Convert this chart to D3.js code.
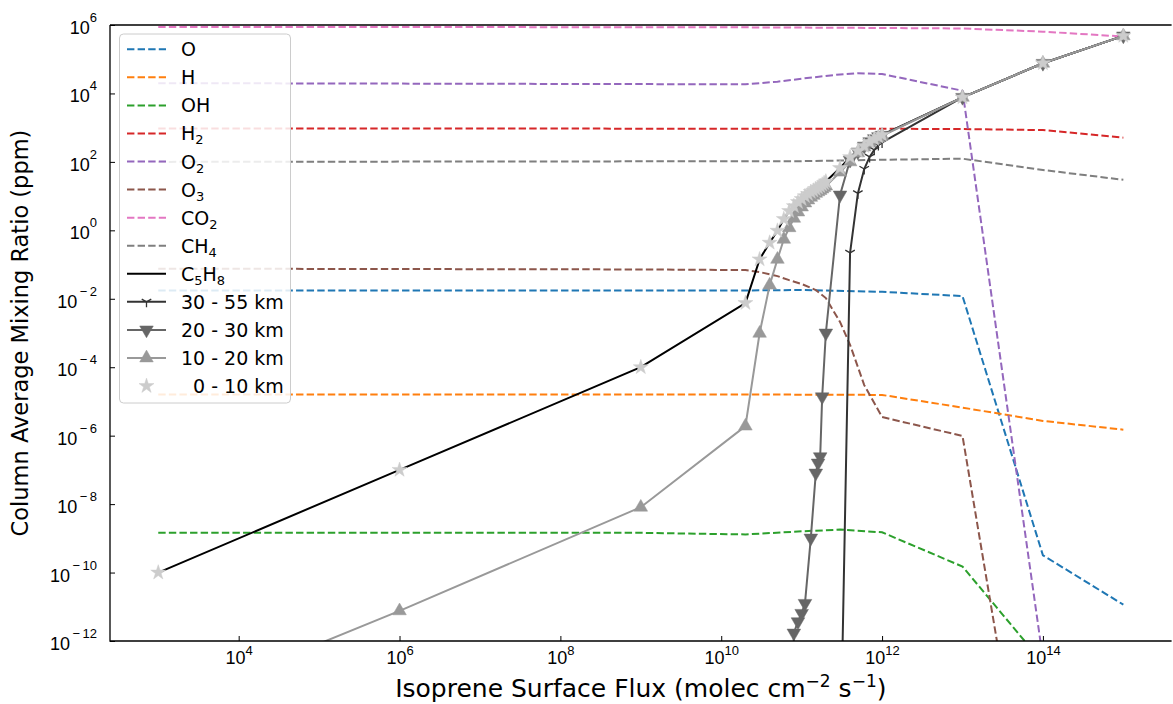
<!DOCTYPE html>
<html>
<head>
<meta charset="utf-8">
<script src="https://cdn.jsdelivr.net/npm/d3@7"></script>
<style>
  html, body { margin: 0; padding: 0; background: #fff; }
  svg { display: block; font-family: "DejaVu Sans", sans-serif; }
</style>
</head>
<body>
<svg id="chart" width="1173" height="704"></svg>
<script>
// ---- species column averages (dashed) ----
const oFlux   = [1e3, 2e10, 1e11, 1e12, 1e13, 1e14, 1e15];
const oVals   = [1.75e-2, 1.75e-2, 1.8e-2, 1.6e-2, 1.2e-2, 3.2e-10, 1.15e-11];
const hFlux   = [1e3, 2e10, 1e12, 1e13, 1e14, 1e15];
const hVals   = [1.6e-5, 1.6e-5, 1.55e-5, 6.6e-6, 2.7e-6, 1.5e-6];
const ohFlux  = [1e3, 1e9, 2e10, 1e11, 3e11, 1e12, 1e13, 1e14];
const ohVals  = [1.45e-9, 1.45e-9, 1.3e-9, 1.6e-9, 1.8e-9, 1.5e-9, 1.5e-10, 2.3e-13];
const h2Flux  = [1e3, 1e12, 1e13, 1e14, 1e15];
const h2Vals  = [9.5e2, 9.3e2, 9.1e2, 8.5e2, 5.1e2];
const o2Flux  = [1e3, 2e10, 5e10, 1e11, 3e11, 5e11, 1e12, 1e13, 1e14, 1e15];
const o2Vals  = [2.0e4, 1.85e4, 2.2e4, 2.7e4, 3.6e4, 3.9e4, 3.7e4, 1.2e4, 3e-13, 1e-30];
const o3Flux  = [1e3, 1e9, 2e10, 3e10, 5e10, 7e10, 1e11, 1.5e11, 2e11, 3e11, 4e11, 6e11, 1e12, 1e13, 1e14];
const o3Vals  = [7.6e-2, 7.2e-2, 6.9e-2, 6.05e-2, 4.6e-2, 3.5e-2, 2.7e-2, 1.8e-2, 1.05e-2, 2.1e-3, 4.5e-4, 3.0e-5, 3.5e-6, 9.8e-7, 1e-20];
const co2Flux = [1e3, 1e10, 1e12, 1e13, 1e14, 1e15];
const co2Vals = [8.8e5, 8.6e5, 8.2e5, 7.9e5, 6.4e5, 4.6e5];
const ch4Flux = [1e3, 1e11, 1e12, 1e13, 1e14, 1e15];
const ch4Vals = [1.0e2, 1.05e2, 1.15e2, 1.24e2, 5.8e1, 3.0e1];

// ---- isoprene runs: surface flux grid ----
const fluxGrid = [
  1e3, 1e6, 1e9,
  2e10, 3e10, 4e10, 5e10, 6e10, 7e10, 8e10, 9e10,
  1e11, 1.1e11, 1.2e11, 1.3e11, 1.4e11, 1.5e11, 1.6e11, 1.7e11, 1.8e11, 1.9e11, 2e11,
  3e11, 4e11, 5e11, 6e11, 7e11, 8e11, 9e11, 1e12,
  1e13, 1e14, 1e15
];

// column average C5H8
const c5h8Vals = [
  1e-10, 1e-7, 1e-4,
  7.5e-3, 0.142, 0.435, 0.975, 2.14, 3.67, 5.1, 6.7,
  8.2, 10, 11.5, 13.2, 14.5, 16.1, 17.8, 19.6, 21.7, 24, 26.7,
  66, 138, 209, 290, 380, 465, 540, 615,
  7.7e3, 7.6e4, 4.8e5
];

// C5H8 in altitude bands (null: not reached at that flux)
const band3055Vals = [
  null, null, null,
  null, null, null, null, null, null, null, null,
  null, null, null, null, null, null, null, null, null, null, null,
  1e-16, 0.22, 12, 62, 140, 225, 310, 370,
  7.7e3, 7.6e4, 4.8e5
];
const band2030Vals = [
  null, null, null,
  null, null, null, null, null, 1e-20, 1.71e-12, 3.66e-12,
  6.44e-12, 1.26e-11, null, 1.02e-9, null, 8.1e-8, 1.59e-7, 2.43e-7, 1.37e-5, null, 1.0e-3,
  10.8, 112, 195, 290, 390, 480, 550, 600,
  7.7e3, 7.6e4, 4.8e5
];
const band1020Vals = [
  1e-14, 7.6e-12, 8.1e-9,
  1.9e-6, 9.8e-4, 2.5e-2, 0.142, 0.547, 1.19, 2.24, 3.43,
  4.8, 6.3, 7.7, 9.2, 10.5, 12, 13.3, 14.6, 16.1, 17.8, 19.6,
  50, 100, 183, 271, 353, 436, 500, 575,
  7.7e3, 7.6e4, 4.8e5
];
const band010Vals = [
  1e-10, 1e-7, 1e-4,
  7.5e-3, 0.142, 0.435, 0.975, 2.14, 3.67, 5.1, 6.7,
  8.2, 10, 11.5, 13.2, 14.5, 16.1, 17.8, 19.6, 21.7, 24, 26.7,
  66, 138, 209, 290, 380, 465, 540, 615,
  7.7e3, 7.6e4, 4.8e5
];

const xTickVals = [1e4, 1e6, 1e8, 1e10, 1e12, 1e14];
const yTickVals = [1e-12, 1e-10, 1e-8, 1e-6, 1e-4, 1e-2, 1e0, 1e2, 1e4, 1e6];

const zip = (xs, ys) => xs.map((v, i) => [v, ys[i]]).filter(d => d[1] != null);

const species = [
  { label: ["O"],        color: "#1f77b4", data: zip(oFlux, oVals) },
  { label: ["H"],        color: "#ff7f0e", data: zip(hFlux, hVals) },
  { label: ["OH"],       color: "#2ca02c", data: zip(ohFlux, ohVals) },
  { label: ["H", "2"],   color: "#d62728", data: zip(h2Flux, h2Vals) },
  { label: ["O", "2"],   color: "#9467bd", data: zip(o2Flux, o2Vals) },
  { label: ["O", "3"],   color: "#8c564b", data: zip(o3Flux, o3Vals) },
  { label: ["CO", "2"],  color: "#e377c2", data: zip(co2Flux, co2Vals) },
  { label: ["CH", "4"],  color: "#7f7f7f", data: zip(ch4Flux, ch4Vals) },
];

const bands = [
  { label: "30 - 55 km", color: "#333333", marker: "tri", line: true,  data: zip(fluxGrid, band3055Vals) },
  { label: "20 - 30 km", color: "#666666", marker: "down", line: true, data: zip(fluxGrid, band2030Vals) },
  { label: "10 - 20 km", color: "#999999", marker: "up", line: true,   data: zip(fluxGrid, band1020Vals) },
  { label: "  0 - 10 km", color: "#cccccc", marker: "star", line: false, data: zip(fluxGrid, band010Vals) },
];

const W = 1173, H = 704;
const plot = { left: 110, right: 1171.6, top: 25, bottom: 641 };

const x = d3.scaleLog().domain([Math.pow(10, 2.4), Math.pow(10, 15.6)]).range([plot.left, plot.right]);
const y = d3.scaleLog().domain([1e-12, 1e6]).range([plot.bottom, plot.top]);

const svg = d3.select("#chart");
svg.append("rect").attr("width", W).attr("height", H).attr("fill", "#fff");

svg.append("defs").append("clipPath").attr("id", "plotClip")
  .append("rect")
  .attr("x", plot.left).attr("y", plot.top)
  .attr("width", plot.right - plot.left).attr("height", plot.bottom - plot.top);

const line = d3.line().x(d => x(d[0])).y(d => y(d[1]));

const g = svg.append("g").attr("clip-path", "url(#plotClip)");

// dashed species
species.forEach(s => {
  g.append("path")
    .attr("d", line(s.data))
    .attr("fill", "none")
    .attr("stroke", s.color)
    .attr("stroke-width", 2)
    .attr("stroke-dasharray", "7.4,3.2");
});

// isoprene column average
g.append("path")
  .attr("d", line(zip(fluxGrid, c5h8Vals)))
  .attr("fill", "none")
  .attr("stroke", "#000")
  .attr("stroke-width", 2);

function markerPath(kind) {
  if (kind === "star") return d3.symbol(d3.symbolStar, 70)();
  if (kind === "up") return d3.symbol(d3.symbolTriangle, 80)();
  if (kind === "down") return d3.symbol(d3.symbolTriangle, 80)();
  // tri_down: three spokes
  const s = 5.5;
  return `M0,0L0,${s}M0,0L${-0.866 * s},${-0.5 * s}M0,0L${0.866 * s},${-0.5 * s}`;
}

function drawMarker(sel, kind, color) {
  const p = sel.append("path").attr("d", markerPath(kind));
  if (kind === "tri") {
    p.attr("fill", "none").attr("stroke", color).attr("stroke-width", 1.3);
  } else {
    p.attr("fill", color).attr("stroke", color).attr("stroke-width", 0.5);
  }
  if (kind === "down") p.attr("transform", "rotate(180)");
  return p;
}

bands.forEach(b => {
  if (b.line) {
    g.append("path")
      .attr("d", line(b.data))
      .attr("fill", "none")
      .attr("stroke", b.color)
      .attr("stroke-width", 2);
  }
  const mg = g.append("g");
  b.data.forEach(d => {
    const m = mg.append("g").attr("transform", `translate(${x(d[0])},${y(d[1])})`);
    drawMarker(m, b.marker, b.color);
  });
});

// ---- axes ----
function powerLabel(sel, v, baseSize, supSize, raise) {
  const e = Math.round(Math.log10(v));
  sel.text(null);
  sel.append("tspan").attr("font-size", baseSize).text("10");
  if (e < 0) {
    sel.append("tspan").attr("font-size", supSize).attr("dy", -raise).attr("dx", 2.5).text("\u2212");
    sel.append("tspan").attr("font-size", supSize).attr("dx", 2.5).text(String(-e));
  } else {
    sel.append("tspan").attr("font-size", supSize).attr("dy", -raise).text(String(e));
  }
}

const xAxis = svg.append("g")
  .attr("transform", `translate(0,${plot.bottom})`)
  .call(d3.axisBottom(x).tickValues(xTickVals).tickSize(-5).tickSizeOuter(0).tickPadding(0));
xAxis.select(".domain").remove();
xAxis.selectAll(".tick line").attr("stroke", "#000").attr("stroke-width", 1);
xAxis.selectAll(".tick text")
  .attr("y", 23)
  .attr("dy", null)
  .attr("fill", "#000")
  .attr("text-anchor", "middle")
  .each(function(d) { powerLabel(d3.select(this), d, 18, 13, 9); });

const yAxis = svg.append("g")
  .attr("transform", `translate(${plot.left},0)`)
  .call(d3.axisLeft(y).tickValues(yTickVals).tickSize(-5).tickSizeOuter(0).tickPadding(0));
yAxis.select(".domain").remove();
yAxis.selectAll(".tick line").attr("stroke", "#000").attr("stroke-width", 1);
yAxis.selectAll(".tick text")
  .attr("x", -13)
  .attr("dy", null)
  .attr("y", 8.5)
  .attr("fill", "#000")
  .attr("text-anchor", "end")
  .each(function(d) { powerLabel(d3.select(this), d, 18, 13, 12); });

// spines
svg.append("path")
  .attr("d", `M${plot.left},${plot.top}H${plot.right}M${plot.left},${plot.top}V${plot.bottom}H${plot.right}`)
  .attr("fill", "none").attr("stroke", "#000").attr("stroke-width", 1.3);

// axis titles
const xl = svg.append("text")
  .attr("x", (plot.left + plot.right) / 2)
  .attr("y", 697)
  .attr("text-anchor", "middle")
  .attr("font-size", 25)
  .attr("fill", "#000");
xl.append("tspan").text("Isoprene Surface Flux (molec cm");
xl.append("tspan").attr("font-size", 17).attr("dy", -10).text("\u22122");
xl.append("tspan").attr("dy", 10).text(" s");
xl.append("tspan").attr("font-size", 17).attr("dy", -10).text("\u22121");
xl.append("tspan").attr("dy", 10).text(")");

svg.append("text")
  .attr("transform", `translate(28,${(plot.top + plot.bottom) / 2}) rotate(-90)`)
  .attr("text-anchor", "middle")
  .attr("font-size", 22.5)
  .attr("fill", "#000")
  .text("Column Average Mixing Ratio (ppm)");

// ---- legend ----
const leg = svg.append("g");
const legBox = { x: 119.5, y: 34, w: 171, h: 369 };
leg.append("rect")
  .attr("x", legBox.x).attr("y", legBox.y)
  .attr("width", legBox.w).attr("height", legBox.h)
  .attr("rx", 4)
  .attr("fill", "#fff").attr("fill-opacity", 0.85)
  .attr("stroke", "#cccccc").attr("stroke-width", 1);

const rowY = i => 49.3 + i * 28.06;
const lx0 = 127, lx1 = 166, tx = 181;

species.forEach((s, i) => {
  const yy = rowY(i);
  leg.append("line").attr("x1", lx0).attr("x2", lx1).attr("y1", yy).attr("y2", yy)
    .attr("stroke", s.color).attr("stroke-width", 2).attr("stroke-dasharray", "7.4,3.2");
  const t = leg.append("text").attr("x", tx).attr("y", yy + 7).attr("font-size", 19).attr("fill", "#000");
  t.append("tspan").text(s.label[0]);
  if (s.label[1]) t.append("tspan").attr("font-size", 13).attr("dy", 4).text(s.label[1]);
});

{
  const i = species.length;
  const yy = rowY(i);
  leg.append("line").attr("x1", lx0).attr("x2", lx1).attr("y1", yy).attr("y2", yy)
    .attr("stroke", "#000").attr("stroke-width", 2);
  const t = leg.append("text").attr("x", tx).attr("y", yy + 7).attr("font-size", 19).attr("fill", "#000");
  t.append("tspan").text("C");
  t.append("tspan").attr("font-size", 13).attr("dy", 4).text("5");
  t.append("tspan").attr("dy", -4).text("H");
  t.append("tspan").attr("font-size", 13).attr("dy", 4).text("8");
}

bands.forEach((b, j) => {
  const i = species.length + 1 + j;
  const yy = rowY(i);
  if (b.line) {
    leg.append("line").attr("x1", lx0).attr("x2", lx1).attr("y1", yy).attr("y2", yy)
      .attr("stroke", b.color).attr("stroke-width", 2);
  }
  const m = leg.append("g").attr("transform", `translate(${(lx0 + lx1) / 2},${yy})`);
  drawMarker(m, b.marker, b.color);
  leg.append("text").attr("x", tx).attr("y", yy + 7).attr("font-size", 19).attr("fill", "#000")
    .style("white-space", "pre").text(b.label);
});
</script>
</body>
</html>
